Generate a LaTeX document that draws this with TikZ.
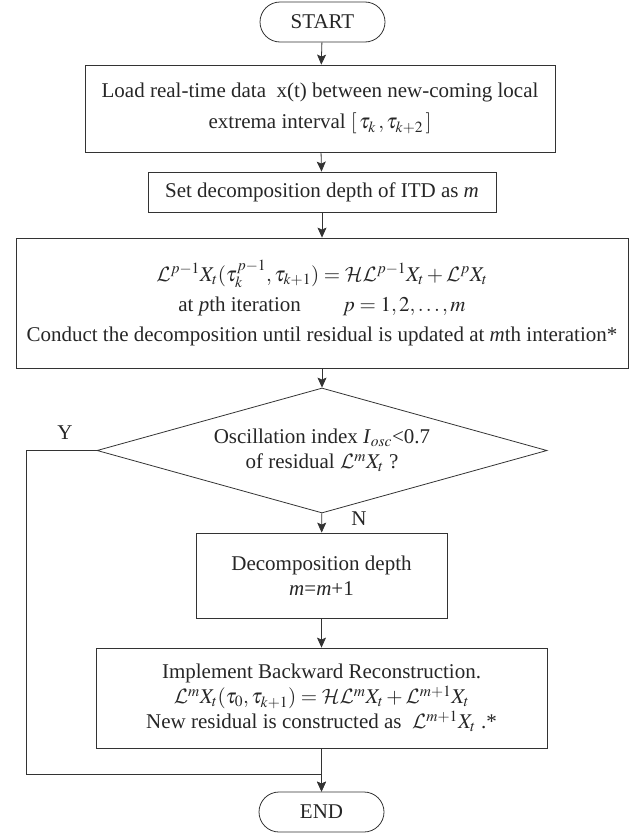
\documentclass[tikz,border=0pt]{standalone}
\usepackage{mathptmx}
\DeclareMathAlphabet{\mathcal}{OMS}{cmsy}{m}{n}
\usepackage[no-math]{fontspec}
\setmainfont{Liberation Serif}
\usetikzlibrary{shapes.geometric,arrows.meta}

\begin{document}
\begin{tikzpicture}[x=1pt, y=-1pt, line width=0.8pt, draw=black!80,
    every node/.style={font=\fontsize{21}{25}\selectfont, text=black!85, align=center},
    term/.style={draw, rectangle, rounded corners=20pt, minimum width=125pt, minimum height=40pt},
    proc/.style={draw, rectangle, inner sep=0pt},
    test/.style={draw, diamond, aspect=3.6, inner sep=0pt, minimum width=450pt, minimum height=125pt},
    flow/.style={-{Stealth[length=10pt, width=9pt, inset=2pt]}, draw=black!80},
    answer/.style={font=\fontsize{21}{25}\selectfont}]
  \useasboundingbox (0,0) rectangle (635,838);
  \node[term] (start) at (322.5, 22) {START};
  \node[proc, minimum width=470pt, minimum height=87pt] (load) at (320, 108.5)
    {Load real-time data\ \ x(t) between new-coming local\\[6pt]
     extrema interval $[\,\tau_k\,,\tau_{k+2}\,]$};
  \node[proc, minimum width=348pt, minimum height=40pt] (depth) at (322, 192)
    {Set decomposition depth of ITD as \textit{m}};
  \node[proc, minimum width=612pt, minimum height=130pt] (iter) at (322, 303)
    {$\mathcal{L}^{p-1}X_t(\tau_k^{p-1},\tau_{k+1})=\mathcal{H}\mathcal{L}^{p-1}X_t+\mathcal{L}^{p}X_t$\\[5pt]
     at \textit{p}th iteration\hspace{2em}$p=1,2,\ldots,m$\\[5pt]
     Conduct the decomposition until residual is updated at \textit{m}th interation*};
  \node[test] (osc) at (322, 450.5)
    {Oscillation index \textit{I}$_{\mathit{osc}}$<0.7\\ of residual $\mathcal{L}^{m}X_t$ ?};
  \node[proc, minimum width=251pt, minimum height=85pt] (incr) at (321.5, 575.5)
    {Decomposition depth\\ \textit{m}=\textit{m}+1};
  \node[proc, minimum width=451pt, minimum height=100pt] (recon) at (321.5, 698)
    {Implement Backward Reconstruction.\\
     $\mathcal{L}^{m}X_t(\tau_0,\tau_{k+1})=\mathcal{H}\mathcal{L}^{m}X_t+\mathcal{L}^{m+1}X_t$\\
     New residual is constructed as\ \ $\mathcal{L}^{m+1}X_t$ .*};
  \node[term] (end) at (321.5, 812) {END};
  \coordinate (loop) at (26, 774);
  \node[answer] (yes) at (65, 433) {Y};
  \node[answer] (no) at (359, 519) {N};
  \draw[flow] (start) -- (load);
  \draw[flow] (load) -- (depth);
  \draw[flow] (depth) -- (iter.north -| depth.south);
  \draw[flow] (iter.south -| osc.north) -- (osc);
  \draw[flow] (osc) -- (incr);
  \draw[flow] (incr) -- (recon);
  \draw[flow] (recon) -- (end);
  \draw[flow] (osc.west) -| (loop) -- (loop -| end.north) -- (end.north);
\end{tikzpicture}
\end{document}
